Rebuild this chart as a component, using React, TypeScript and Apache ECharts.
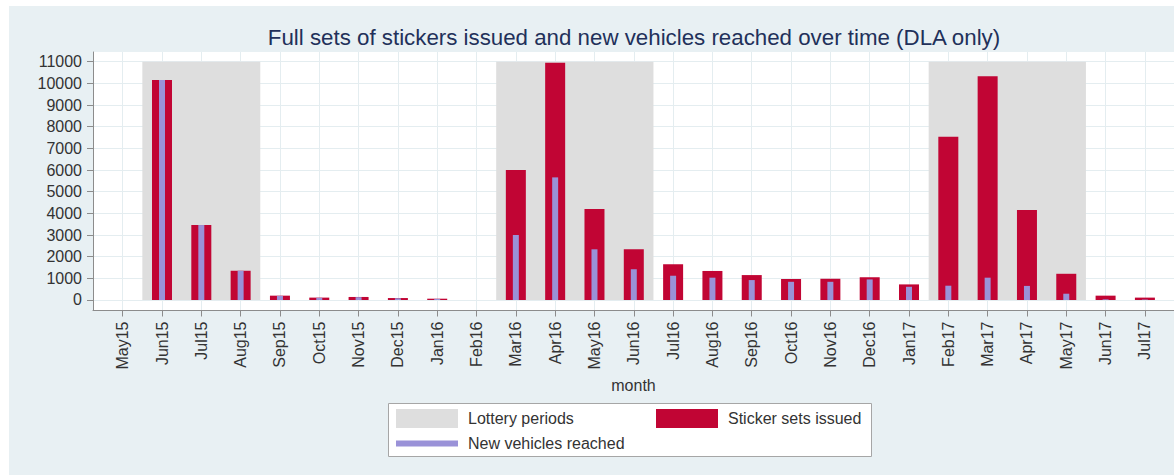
import React, { useEffect, useRef } from 'react';
import * as echarts from 'echarts';

const months = ['May15', 'Jun15', 'Jul15', 'Aug15', 'Sep15', 'Oct15', 'Nov15', 'Dec15', 'Jan16', 'Feb16', 'Mar16', 'Apr16', 'May16', 'Jun16', 'Jul16', 'Aug16', 'Sep16', 'Oct16', 'Nov16', 'Dec16', 'Jan17', 'Feb17', 'Mar17', 'Apr17', 'May17', 'Jun17', 'Jul17'];
const stickerSets = [null, 10150, 3460, 1350, 200, 110, 140, 90, 60, null, 6000, 10950, 4200, 2340, 1650, 1340, 1150, 970, 980, 1050, 720, 7530, 10330, 4150, 1210, 200, 110];
const newVehicles = [null, 10150, 3460, 1350, 190, 100, 130, 80, 50, null, 3000, 5660, 2340, 1420, 1120, 1030, 920, 840, 840, 950, 610, 660, 1030, 650, 290, 30, 20];
const lotteryStart = ['Jun15', 'Mar16', 'Feb17'];
const lotteryEnd = ['Aug15', 'Jun16', 'May17'];
const yTicks = [0, 1000, 2000, 3000, 4000, 5000, 6000, 7000, 8000, 9000, 10000, 11000];

const FONT = "'Liberation Sans', Arial, Helvetica, sans-serif";
const TEXT = '#333333';
const AXIS = '#8c8c8c';
const GRIDLINE = '#e4edf0';
const RED = '#c10534';
const BLUE = '#9a92d8';
const SHADE = '#dedede';

export default function App() {
  const ref = useRef<HTMLDivElement>(null);
  useEffect(() => {
    if (!ref.current) return;
    const chart = echarts.init(ref.current, null, { renderer: 'svg' });
    const idx = months.map((_, i) => i);
    const xMin = -0.755;
    const xMax = 26.74;
    const areas = lotteryStart.map((s, k) => [
      { xAxis: months.indexOf(s) - 0.5, yAxis: 0 },
      { xAxis: months.indexOf(lotteryEnd[k]) + 0.5, yAxis: yTicks[yTicks.length - 1] },
    ]);
    const xAxisBase = {
      type: 'value',
      min: xMin,
      max: xMax,
      offset: 0,
    };
    chart.setOption({
      animation: false,
      backgroundColor: 'transparent',
      textStyle: { fontFamily: FONT },
      title: {
        text: 'Full sets of stickers issued and new vehicles reached over time (DLA only)',
        left: 634,
        top: 26,
        textAlign: 'center',
        padding: 0,
        textStyle: { fontSize: 22.3, fontWeight: 'normal', color: '#22305a', fontFamily: FONT },
      },
      grid: {
        left: 93,
        right: 0,
        top: 52,
        bottom: 164.5,
        show: true,
        backgroundColor: '#ffffff',
        borderWidth: 0,
        containLabel: false,
        outerBoundsMode: 'none',
      },
      xAxis: [
        {
          ...xAxisBase,
          name: 'month',
          nameLocation: 'middle',
          nameGap: 66,
          nameTextStyle: { fontSize: 16, color: TEXT, fontFamily: FONT },
          axisLine: { show: true, onZero: false, lineStyle: { color: AXIS, width: 1 } },
          axisTick: { show: true, length: 6, customValues: idx, lineStyle: { color: AXIS } },
          axisLabel: {
            customValues: idx,
            rotate: 90,
            margin: 11,
            fontSize: 16,
            color: TEXT,
            fontFamily: FONT,
            formatter: (v: number) => months[Math.round(v)] ?? '',
          },
          splitLine: { show: true, lineStyle: { color: GRIDLINE, width: 1 } },
        },
        {
          ...xAxisBase,
          show: false,
          axisLine: { show: false, onZero: false },
          splitLine: { show: false },
        },
      ],
      yAxis: {
        type: 'value',
        min: -485,
        max: 11448,
        axisLine: { show: true, onZero: false, lineStyle: { color: AXIS, width: 1 } },
        axisTick: { show: true, length: 6, customValues: yTicks, lineStyle: { color: AXIS } },
        axisLabel: {
          customValues: yTicks,
          margin: 11,
          fontSize: 16,
          color: TEXT,
          fontFamily: FONT,
          formatter: (v: number) => String(Math.round(v)),
        },
        splitLine: { show: true, lineStyle: { color: GRIDLINE, width: 1 } },
      },
      legend: [
        {
          data: [{ name: 'Lottery periods', icon: 'rect' }],
          left: 396,
          top: 409,
          padding: 0,
          itemWidth: 62,
          itemHeight: 19,
          selectedMode: false,
          textStyle: { fontSize: 16, color: TEXT, fontFamily: FONT, padding: [0, 0, 0, 5] },
        },
        {
          data: [{ name: 'Sticker sets issued', icon: 'rect' }],
          left: 656,
          top: 409,
          padding: 0,
          itemWidth: 62,
          itemHeight: 19,
          selectedMode: false,
          textStyle: { fontSize: 16, color: TEXT, fontFamily: FONT, padding: [0, 0, 0, 5] },
        },
        {
          data: [{ name: 'New vehicles reached', icon: 'rect' }],
          left: 396,
          top: 435.5,
          padding: 0,
          itemWidth: 62,
          itemHeight: 6,
          selectedMode: false,
          textStyle: { fontSize: 16, color: TEXT, fontFamily: FONT, padding: [0, 0, 0, 5] },
        },
      ],
      graphic: [
        {
          type: 'rect',
          z: 0,
          shape: { x: 388.5, y: 403.5, width: 483, height: 53 },
          style: { fill: '#ffffff', stroke: '#a6a6a6', lineWidth: 1 },
          silent: true,
        },
      ],
      series: [
        {
          name: 'Lottery periods',
          type: 'bar',
          xAxisIndex: 0,
          data: [],
          z: 1,
          itemStyle: { color: SHADE },
          markArea: {
            silent: true,
            itemStyle: { color: SHADE },
            data: areas,
          },
        },
        {
          name: 'Sticker sets issued',
          type: 'bar',
          xAxisIndex: 0,
          barWidth: 20,
          z: 3,
          itemStyle: { color: RED },
          data: stickerSets.map((v, i) => [i, v]),
        },
        {
          name: 'New vehicles reached',
          type: 'bar',
          xAxisIndex: 1,
          barWidth: 6,
          z: 4,
          itemStyle: { color: BLUE },
          data: newVehicles.map((v, i) => [i, v]),
        },
      ],
    });
    return () => chart.dispose();
  }, []);
  return (
    <div style={{ position: 'absolute', left: 0, top: 0, width: 1174, height: 475, background: '#ffffff' }}>
      <div style={{ position: 'absolute', left: 9, top: 6, width: 1165, height: 469, background: '#e8f0f3' }} />
      <div ref={ref} style={{ position: 'absolute', left: 0, top: 0, width: 1174, height: 475 }} />
    </div>
  );
}
